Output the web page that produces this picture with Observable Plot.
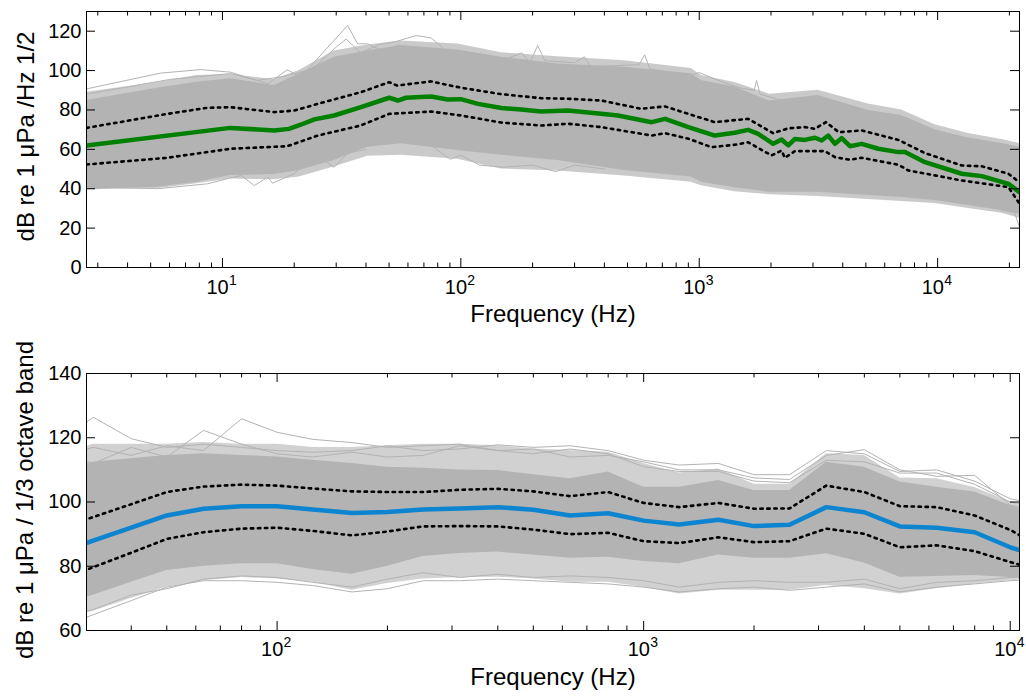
<!DOCTYPE html>
<html>
<head>
<meta charset="utf-8">
<script src="https://cdn.jsdelivr.net/npm/d3@7"></script>
<script src="https://cdn.jsdelivr.net/npm/@observablehq/plot@0.6"></script>
<style>
  html, body { margin: 0; padding: 0; background: #fff; }
  #chart { width: 1026px; height: 697px; overflow: hidden; }
  #chart svg { display: block; }
</style>
</head>
<body>
<div id="chart"></div>
<script>
// ---------------- TOP PANEL: power spectral density ----------------
const psdMedianFreq = [2.69, 10.8, 16.5, 19.0, 21.3, 24.3, 29.4, 38.1, 50.1, 54.4, 58.9, 75.0, 88.1, 100, 118, 148, 179, 217, 281, 388, 456, 632, 719, 901, 1162, 1409, 1604, 1767, 2043, 2214, 2363, 2520, 2775, 3057, 3262, 3479, 3710, 3957, 4289, 4800, 5640, 6843, 7296, 8852, 12620, 15310, 19820, 22050];
const psdMedian     = [62.0, 70.9, 69.6, 70.4, 72.5, 75.2, 77.2, 81.4, 86.2, 84.8, 86.2, 86.8, 85.3, 85.5, 83.1, 81.0, 80.2, 79.2, 79.7, 78.1, 77.2, 73.8, 75.5, 71.3, 67.0, 68.4, 69.9, 67.9, 62.8, 65.0, 62.0, 65.3, 64.8, 65.9, 64.5, 67.0, 62.8, 65.7, 61.6, 62.8, 60.3, 58.6, 58.6, 53.5, 47.6, 46.4, 42.5, 38.2];

const psdP75Freq = [2.69, 5.87, 8.65, 10.8, 16.5, 20, 25.1, 38, 50, 54, 75, 100, 148, 217, 281, 388, 571, 719, 901, 1162, 1604, 2043, 2363, 2775, 3057, 3400, 3850, 4800, 6843, 8852, 12620, 15310, 19820, 22050];
const psdP75     = [70.9, 78.0, 81.1, 81.4, 78.9, 79.7, 83.1, 89.0, 94.1, 92.4, 94.5, 91.3, 88.0, 86.0, 85.7, 84.8, 80.6, 81.8, 78.0, 73.8, 75.5, 68.2, 70.7, 71.3, 70.4, 73.8, 68.7, 69.6, 64.8, 58.1, 51.8, 51.4, 47.6, 43.3];

const psdP25Freq = [2.69, 5.87, 10.8, 18.7, 25.1, 38, 50, 75, 100, 148, 217, 281, 388, 632, 719, 901, 1125, 1409, 1604, 2010, 2214, 2286, 2520, 3365, 3710, 4289, 4800, 6843, 7530, 12620, 19820, 22050];
const psdP25     = [52.3, 55.7, 60.3, 61.6, 67.0, 72.1, 78.0, 79.2, 77.2, 73.6, 72.1, 73.0, 71.3, 67.0, 68.2, 65.4, 61.1, 62.3, 63.6, 56.9, 59.4, 55.7, 59.1, 59.1, 56.0, 54.7, 55.7, 52.2, 49.3, 44.2, 40.8, 32.4];

// envelope of the grey individual spectra (dense core and sparse outer zone)
const psdEnvFreq  = [2.69, 5.33, 7.8, 10.8, 16.5, 21, 29.4, 40.6, 56, 97, 148, 255, 486, 927, 1021, 1409, 1972, 3152, 5120, 7060, 9750, 13460, 18580, 22050];
const psdDenseHi  = [84.8, 91, 94.1, 95.8, 92.4, 98.3, 106.8, 110, 112.7, 110.5, 106.8, 103.4, 101.7, 98.4, 95, 91.6, 84.5, 87.4, 79.7, 77.2, 70, 65.8, 63, 61.1];
const psdDenseLo  = [39.6, 40.8, 43.3, 46.7, 47.2, 49.3, 54.3, 61.1, 62.8, 59.4, 57, 54.3, 49.3, 45.9, 43.3, 40.5, 38.2, 38.2, 36.5, 35.5, 34.0, 31.5, 28.9, 27];
const psdOuterHi  = [89, 94, 97.5, 98, 95.5, 100, 110, 113, 115, 113.5, 109, 107, 105, 101, 97.5, 94, 88, 90, 83, 80, 72.5, 68, 65, 63];
const psdOuterLo  = [39.5, 40, 42.5, 45, 44.5, 46, 51, 56.5, 57, 55, 50, 49, 46.5, 43.3, 41.5, 38.5, 37, 36, 34.5, 33.5, 32.5, 30, 27.5, 25];

// a few individual outlying spectra
const psdOutAFreq = [2.69, 5.5, 8.1, 10.8, 15.5, 18.7, 21.3, 24.3, 33.5, 36.9, 40.6, 47, 55, 62];
const psdOutA     = [90.7, 98.7, 100.5, 99.2, 93.3, 100.4, 96.7, 104.3, 122.9, 113.6, 113.6, 110, 113, 110];
const psdOutBFreq = [2.69, 6, 10.8, 14, 18, 24, 29.4, 33, 38, 45, 53, 65, 75, 85];
const psdOutB     = [88, 95.5, 98.5, 95, 97, 101, 111, 116, 109, 113, 114.6, 117.8, 116.6, 111];
const psdOutCFreq = [2.69, 5.33, 8.65, 10.8, 12, 13.6, 15.5, 16.2, 20, 24.3, 29.4, 33.5, 40];
const psdOutC     = [41, 40, 42.5, 45.5, 46.7, 41.6, 45.9, 42.8, 47.6, 57.7, 50.9, 58, 60];
const psdOutDFreq = [100, 148, 180, 195, 210, 225, 300, 330, 350, 560, 590, 620, 900, 1000, 1200, 1500, 1700, 1740, 1800, 2200];
const psdOutD     = [110, 105, 109, 104, 112.7, 105, 104, 107, 102, 103, 108, 101, 97, 99, 95, 91, 90, 95, 88, 85];
const psdOutEFreq = [75, 90, 100, 120, 150, 200, 250, 300, 400];
const psdOutE     = [62, 55, 57, 52, 50.9, 52, 48.7, 52, 50];
const psdOutFFreq = [18580, 21000, 22050];
const psdOutF     = [29, 28, 20.5];

const topMajorTicks = [10, 100, 1000, 10000];
const topMinorTicks = [3, 4, 5, 6, 7, 8, 9, 20, 30, 40, 50, 60, 70, 80, 90, 200, 300, 400, 500, 600, 700, 800, 900, 2000, 3000, 4000, 5000, 6000, 7000, 8000, 9000, 20000];
const topYTicks = [0, 20, 40, 60, 80, 100, 120];

// ---------------- BOTTOM PANEL: 1/3 octave band levels ----------------
const bandFreq  = [25, 31.5, 40, 50, 63, 80, 100, 125, 160, 200, 250, 315, 400, 500, 630, 800, 1000, 1250, 1600, 2000, 2500, 3150, 4000, 5000, 6300, 8000, 10000, 12500];
const tolMedian = [84, 88.0, 92.0, 95.8, 97.9, 98.7, 98.7, 97.7, 96.6, 96.9, 97.7, 98.0, 98.4, 97.6, 95.8, 96.5, 94.2, 93.0, 94.5, 92.5, 92.9, 98.4, 96.8, 92.4, 92.0, 90.6, 85.9, 82.5];
const tolP75    = [91.5, 95.3, 99.3, 103.1, 104.8, 105.4, 105.1, 104.2, 103.3, 103.1, 103.1, 103.8, 104.1, 103.3, 101.8, 103.1, 99.7, 98.4, 99.7, 97.9, 98.0, 105.1, 103.1, 98.7, 98.4, 95.8, 91.3, 85];
const tolP25    = [75.4, 79.7, 84.2, 88.5, 90.6, 91.7, 92.0, 91.0, 89.6, 90.8, 92.4, 92.5, 92.4, 91.4, 90.0, 90.4, 87.8, 87.2, 89.0, 87.5, 87.8, 91.7, 90.1, 85.9, 86.5, 84.7, 81.3, 78.2];
const tolDenseHi = [110, 112.4, 113.5, 114.5, 115, 114.5, 114, 113, 112, 110.8, 110.5, 110, 109.8, 108.5, 107.2, 109.3, 104.6, 104.6, 106.7, 103.6, 103.6, 112.4, 110.8, 106.2, 104.6, 103.1, 98.9, 95.5];
const tolDenseLo = [68, 71, 75, 78.7, 80, 80.8, 80.8, 79, 77.5, 80, 83, 84, 84.4, 83.5, 82.5, 82.8, 81.5, 80.8, 83.5, 82.5, 82.5, 83.9, 81, 76.6, 76.8, 77.1, 76.5, 76];
const tolOuterHi = [114, 118, 118, 118, 118.5, 118, 118, 117, 117, 117.5, 118, 118, 117.5, 116.5, 116, 115.5, 112, 109, 110.3, 105.5, 105.5, 115, 114.5, 107.5, 107.2, 104.5, 100, 97];
const tolOuterLo = [63, 66, 70, 73.5, 75.5, 76.5, 76, 75, 72.5, 74.6, 76, 76.5, 76.6, 76, 75, 75, 73.5, 71.4, 72.5, 72.5, 72.5, 74, 73, 71.4, 73, 74.5, 75.5, 76];
const tolOutU1 = [118, 126.4, 119.7, 117, 118, 117, 116, 115.5, 116, 117.5, 116, 116.5, 117.8, 117, 117.5, 116, 113, 111.5, 112, 108.5, 108.5, 116, 115, 109.5, 110, 106.5, 101, 99];
const tolOutU2 = [116, 112, 117, 114, 122.3, 118, 115, 114, 115.5, 114, 114.5, 117.5, 116, 116.5, 114, 114.5, 112.5, 110, 110, 107.5, 107, 114.5, 116.3, 110, 108, 108.3, 99, 97];
const tolOutU3 = [114, 117, 114.5, 117.5, 116, 125.9, 121.7, 119.5, 118.5, 117, 117.5, 118, 116, 115, 116.5, 115, 111, 109.5, 109.5, 106.5, 106, 113, 112.5, 109, 109, 105.5, 100, 98];
const tolOutL1 = [60.6, 64.9, 69.3, 73.5, 75.5, 75.5, 75, 74, 72, 73, 75.5, 75.5, 76, 75.5, 75, 74.5, 73.5, 72, 73, 73.5, 72.5, 73.5, 74.5, 72, 73.5, 74.5, 75.5, 76];
const tolOutL2 = [64, 66.5, 71, 73, 76, 77, 76.5, 75, 73.5, 76, 78, 76.5, 77.5, 76.5, 77, 76.5, 75.5, 73.5, 75, 75.5, 75, 75, 76, 73, 75, 75.5, 76.5, 77];

const botMajorTicks = [100, 1000, 10000];
const botMinorTicks = [40, 50, 60, 70, 80, 90, 200, 300, 400, 500, 600, 700, 800, 900, 2000, 3000, 4000, 5000, 6000, 7000, 8000, 9000];
const botYTicks = [60, 80, 100, 120, 140];

// ---------------- helpers ----------------
const FONT = "'Liberation Sans', Arial, Helvetica, sans-serif";
const GREY = "#b3b3b3";
const pts = (fs, vs, id) => fs.map((f, i) => ({f, v: vs[i], id}));
const band = (fs, lo, hi) => fs.map((f, i) => ({f, lo: lo[i], hi: hi[i]}));

function greyLines(sets) {
  return Plot.line(sets.flat(), {x: "f", y: "v", z: "id", stroke: GREY, strokeWidth: 1, clip: true});
}
function dotted(data) {
  return Plot.line(data, {x: "f", y: "v", stroke: "black", strokeWidth: 2.6, strokeDasharray: "2.4,4.6", clip: true});
}

function panel(o) {
  const W = 1026, mL = 86, mR = 7;
  const innerW = W - mL - mR;
  const innerH = o.height - o.marginTop - o.marginBottom;
  return Plot.plot({
    width: W, height: o.height,
    marginLeft: mL, marginRight: mR, marginTop: o.marginTop, marginBottom: o.marginBottom,
    x: {type: "log", domain: o.xDomain, axis: null},
    y: {domain: o.yDomain, axis: null},
    style: {fontFamily: FONT, background: "transparent", color: "black", overflow: "visible"},
    marks: [
      ...o.marks,
      Plot.tickX(o.majorX, {x: d => d, insetTop: innerH - 9, stroke: "black"}),
      Plot.tickX(o.majorX, {x: d => d, insetBottom: innerH - 9, stroke: "black"}),
      Plot.tickX(o.minorX, {x: d => d, insetTop: innerH - 4.5, stroke: "black"}),
      Plot.tickX(o.minorX, {x: d => d, insetBottom: innerH - 4.5, stroke: "black"}),
      Plot.tickY(o.yTicks, {y: d => d, insetRight: innerW - 9, stroke: "black"}),
      Plot.tickY(o.yTicks, {y: d => d, insetLeft: innerW - 9, stroke: "black"}),
      Plot.frame({stroke: "black"}),
      Plot.text(o.yTicks, {y: d => d, frameAnchor: "left", dx: -5, textAnchor: "end", text: d => String(d), fontSize: 20, fill: "black"}),
      Plot.text(o.majorX, {x: d => d, frameAnchor: "bottom", dx: -16, dy: o.baseDy, textAnchor: "start", text: () => "10", fontSize: 20, fill: "black"}),
      Plot.text(o.majorX, {x: d => d, frameAnchor: "bottom", dx: 6.5, dy: o.supDy, textAnchor: "start", text: d => String(Math.round(Math.log10(d))), fontSize: 14, fill: "black"}),
      Plot.text([o.xlabel], {frameAnchor: "bottom", dy: 54, textAnchor: "middle", text: d => d, fontSize: 24, fill: "black"}),
      Plot.text([o.ylabel], {frameAnchor: "left", dx: o.yTitleDx, dy: o.yTitleDy, rotate: -90, textAnchor: "middle", text: d => d, fontSize: 24, fill: "black"})
    ]
  });
}

const topPlot = panel({
  height: 340, marginTop: 11, marginBottom: 73,
  xDomain: [2.69, 22050], yDomain: [0, 130],
  majorX: topMajorTicks, minorX: topMinorTicks, yTicks: topYTicks,
  baseDy: 26.5, supDy: 17.5, yTitleDx: -60, yTitleDy: -3,
  xlabel: "Frequency (Hz)", ylabel: "dB re 1 μPa /Hz 1/2",
  marks: [
    Plot.areaY(band(psdEnvFreq, psdOuterLo, psdOuterHi), {x: "f", y1: "lo", y2: "hi", fill: GREY, fillOpacity: 0.7, clip: true}),
    Plot.areaY(band(psdEnvFreq, psdDenseLo, psdDenseHi), {x: "f", y1: "lo", y2: "hi", fill: GREY, clip: true}),
    greyLines([
      pts(psdOutAFreq, psdOutA, "a"), pts(psdOutBFreq, psdOutB, "b"), pts(psdOutCFreq, psdOutC, "c"),
      pts(psdOutDFreq, psdOutD, "d"), pts(psdOutEFreq, psdOutE, "e"), pts(psdOutFFreq, psdOutF, "f")
    ]),
    dotted(pts(psdP75Freq, psdP75)),
    dotted(pts(psdP25Freq, psdP25)),
    Plot.line(pts(psdMedianFreq, psdMedian), {x: "f", y: "v", stroke: "#008000", strokeWidth: 4.5, strokeLinejoin: "round", clip: true})
  ]
});

const botPlot = panel({
  height: 357, marginTop: 33, marginBottom: 67,
  xDomain: [30.2, 10600], yDomain: [60, 140],
  majorX: botMajorTicks, minorX: botMinorTicks, yTicks: botYTicks,
  baseDy: 25.5, supDy: 16, yTitleDx: -61, yTitleDy: -2,
  xlabel: "Frequency (Hz)", ylabel: "dB re 1 μPa / 1/3 octave band",
  marks: [
    Plot.areaY(band(bandFreq, tolOuterLo, tolOuterHi), {x: "f", y1: "lo", y2: "hi", fill: GREY, fillOpacity: 0.6, clip: true}),
    Plot.areaY(band(bandFreq, tolDenseLo, tolDenseHi), {x: "f", y1: "lo", y2: "hi", fill: GREY, clip: true}),
    greyLines([
      pts(bandFreq, tolOutU1, "u1"), pts(bandFreq, tolOutU2, "u2"), pts(bandFreq, tolOutU3, "u3"),
      pts(bandFreq, tolOutL1, "l1"), pts(bandFreq, tolOutL2, "l2")
    ]),
    dotted(pts(bandFreq, tolP75)),
    dotted(pts(bandFreq, tolP25)),
    Plot.line(pts(bandFreq, tolMedian), {x: "f", y: "v", stroke: "#0d84cf", strokeWidth: 4.5, strokeLinejoin: "round", clip: true})
  ]
});

const chart = document.getElementById("chart");
chart.appendChild(topPlot);
chart.appendChild(botPlot);
</script>
</body>
</html>
